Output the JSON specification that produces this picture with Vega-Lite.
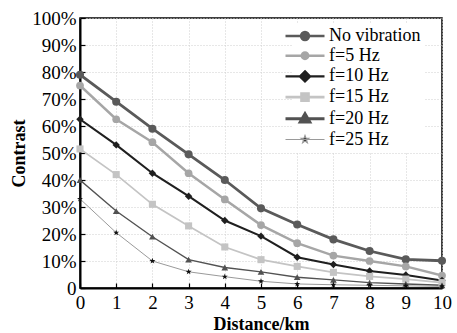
{
  "$schema": "https://vega.github.io/schema/vega-lite/v6.json",
  "width": 362,
  "height": 270,
  "autosize": {"type": "none"},
  "padding": {"left": 80, "top": 18, "right": 15, "bottom": 45},
  "background": "white",
  "config": {
    "view": {"stroke": "black", "strokeWidth": 1.5},
    "font": "Liberation Serif",
    "axis": {
      "labelFont": "Liberation Serif",
      "labelFontSize": 19,
      "labelColor": "black",
      "titleFont": "Liberation Serif",
      "titleFontSize": 18,
      "titleFontWeight": "bold",
      "titleColor": "black",
      "domainColor": "black",
      "domainWidth": 2,
      "tickColor": "black",
      "tickWidth": 1.2,
      "gridColor": "#cfcfcf",
      "gridDash": [1, 2],
      "gridWidth": 1
    }
  },
  "data": {
    "values": [
      {"d": 0, "v": 0.79, "s": "No vibration"},
      {"d": 1, "v": 0.69, "s": "No vibration"},
      {"d": 2, "v": 0.59, "s": "No vibration"},
      {"d": 3, "v": 0.495, "s": "No vibration"},
      {"d": 4, "v": 0.40, "s": "No vibration"},
      {"d": 5, "v": 0.295, "s": "No vibration"},
      {"d": 6, "v": 0.235, "s": "No vibration"},
      {"d": 7, "v": 0.18, "s": "No vibration"},
      {"d": 8, "v": 0.137, "s": "No vibration"},
      {"d": 9, "v": 0.106, "s": "No vibration"},
      {"d": 10, "v": 0.101, "s": "No vibration"},
      {"d": 0, "v": 0.75, "s": "f=5 Hz"},
      {"d": 1, "v": 0.625, "s": "f=5 Hz"},
      {"d": 2, "v": 0.54, "s": "f=5 Hz"},
      {"d": 3, "v": 0.425, "s": "f=5 Hz"},
      {"d": 4, "v": 0.328, "s": "f=5 Hz"},
      {"d": 5, "v": 0.233, "s": "f=5 Hz"},
      {"d": 6, "v": 0.166, "s": "f=5 Hz"},
      {"d": 7, "v": 0.12, "s": "f=5 Hz"},
      {"d": 8, "v": 0.10, "s": "f=5 Hz"},
      {"d": 9, "v": 0.08, "s": "f=5 Hz"},
      {"d": 10, "v": 0.046, "s": "f=5 Hz"},
      {"d": 0, "v": 0.625, "s": "f=10 Hz"},
      {"d": 1, "v": 0.53, "s": "f=10 Hz"},
      {"d": 2, "v": 0.425, "s": "f=10 Hz"},
      {"d": 3, "v": 0.34, "s": "f=10 Hz"},
      {"d": 4, "v": 0.25, "s": "f=10 Hz"},
      {"d": 5, "v": 0.192, "s": "f=10 Hz"},
      {"d": 6, "v": 0.114, "s": "f=10 Hz"},
      {"d": 7, "v": 0.087, "s": "f=10 Hz"},
      {"d": 8, "v": 0.063, "s": "f=10 Hz"},
      {"d": 9, "v": 0.048, "s": "f=10 Hz"},
      {"d": 10, "v": 0.028, "s": "f=10 Hz"},
      {"d": 0, "v": 0.515, "s": "f=15 Hz"},
      {"d": 1, "v": 0.42, "s": "f=15 Hz"},
      {"d": 2, "v": 0.31, "s": "f=15 Hz"},
      {"d": 3, "v": 0.23, "s": "f=15 Hz"},
      {"d": 4, "v": 0.152, "s": "f=15 Hz"},
      {"d": 5, "v": 0.105, "s": "f=15 Hz"},
      {"d": 6, "v": 0.08, "s": "f=15 Hz"},
      {"d": 7, "v": 0.058, "s": "f=15 Hz"},
      {"d": 8, "v": 0.043, "s": "f=15 Hz"},
      {"d": 9, "v": 0.033, "s": "f=15 Hz"},
      {"d": 10, "v": 0.02, "s": "f=15 Hz"},
      {"d": 0, "v": 0.40, "s": "f=20 Hz"},
      {"d": 1, "v": 0.285, "s": "f=20 Hz"},
      {"d": 2, "v": 0.19, "s": "f=20 Hz"},
      {"d": 3, "v": 0.105, "s": "f=20 Hz"},
      {"d": 4, "v": 0.076, "s": "f=20 Hz"},
      {"d": 5, "v": 0.06, "s": "f=20 Hz"},
      {"d": 6, "v": 0.04, "s": "f=20 Hz"},
      {"d": 7, "v": 0.03, "s": "f=20 Hz"},
      {"d": 8, "v": 0.02, "s": "f=20 Hz"},
      {"d": 9, "v": 0.015, "s": "f=20 Hz"},
      {"d": 10, "v": 0.01, "s": "f=20 Hz"},
      {"d": 0, "v": 0.33, "s": "f=25 Hz"},
      {"d": 1, "v": 0.205, "s": "f=25 Hz"},
      {"d": 2, "v": 0.10, "s": "f=25 Hz"},
      {"d": 3, "v": 0.06, "s": "f=25 Hz"},
      {"d": 4, "v": 0.042, "s": "f=25 Hz"},
      {"d": 5, "v": 0.025, "s": "f=25 Hz"},
      {"d": 6, "v": 0.015, "s": "f=25 Hz"},
      {"d": 7, "v": 0.012, "s": "f=25 Hz"},
      {"d": 8, "v": 0.01, "s": "f=25 Hz"},
      {"d": 9, "v": 0.008, "s": "f=25 Hz"},
      {"d": 10, "v": 0.006, "s": "f=25 Hz"}
    ]
  },
  "encoding": {
    "x": {
      "field": "d", "type": "quantitative",
      "scale": {"domain": [0, 10], "nice": false},
      "axis": {"values": [0,1,2,3,4,5,6,7,8,9,10], "title": "Distance/km", "tickSize": -5, "labelPadding": 10, "titlePadding": 3, "grid": true, "labelFlush": false}
    },
    "y": {
      "field": "v", "type": "quantitative",
      "scale": {"domain": [0, 1], "nice": false},
      "axis": {"values": [0,0.1,0.2,0.3,0.4,0.5,0.6,0.7,0.8,0.9,1], "title": "Contrast", "tickSize": -5, "labelPadding": 9, "titlePadding": 3, "grid": true, "labelFlush": false,
        "labelExpr": "datum.value === 0 ? '0' : format(datum.value, '.0%')"}
    }
  },
  "layer": [
    {
      "mark": {"type": "line", "clip": true},
      "encoding": {
        "color": {
          "field": "s", "type": "nominal",
          "scale": {"domain": ["No vibration", "f=5 Hz", "f=10 Hz", "f=15 Hz", "f=20 Hz", "f=25 Hz"],
                    "range": ["#5a5a5a", "#a6a6a6", "#1f1f1f", "#c4c4c4", "#525252", "#9a9a9a"]},
          "legend": {
            "title": null,
            "orient": "none",
            "legendX": 212,
            "legendY": 5,
            "padding": 4,
            "fillColor": "white",
            "symbolSize": 100,
            "symbolType": "circle",
            "symbolStrokeWidth": 2.5,
            "labelFont": "Liberation Serif",
            "labelFontSize": 18,
            "labelColor": "black",
            "labelOffset": 15,
            "rowPadding": 1.7,
            "encoding": {
              "symbols": {
                "shape": {"value": {"expr": "datum.value === 'No vibration' ? 'M-3.9,0H3.9M0.8,0A0.8,0.8,0,1,1,-0.8,0A0.8,0.8,0,1,1,0.8,0Z' : datum.value === 'f=5 Hz' ? 'M-3.9,0H3.9M0.65,0A0.65,0.65,0,1,1,-0.65,0A0.65,0.65,0,1,1,0.65,0Z' : datum.value === 'f=10 Hz' ? 'M-3.9,0H3.9M0,-1L1,0L0,1L-1,0Z' : datum.value === 'f=15 Hz' ? 'M-3.9,0H3.9M-0.7,-0.7H0.7V0.7H-0.7Z' : datum.value === 'f=20 Hz' ? 'M-3.9,0H3.9M0,-1L0.95,0.65H-0.95Z' : 'M-3.9,0H3.9M0,-0.8L0.188,-0.259L0.761,-0.247L0.304,0.099L0.47,0.647L0,0.32L-0.47,0.647L-0.304,0.099L-0.761,-0.247L-0.188,-0.259Z'"}},
                "fill": {"value": {"expr": "datum.value === 'f=25 Hz' ? 'black' : scale('color', datum.value)"}},
                "stroke": {"value": {"expr": "scale('color', datum.value)"}},
                "strokeWidth": {"value": {"expr": "datum.value === 'f=25 Hz' ? 1.2 : datum.value === 'f=20 Hz' ? 3 : datum.value === 'f=15 Hz' ? 2.6 : 2.4"}},
                "opacity": {"value": 1}
              }
            }
          }
        },
        "strokeWidth": {
          "field": "s", "type": "nominal",
          "scale": {"domain": ["f=25 Hz", "f=20 Hz", "f=15 Hz", "f=10 Hz", "f=5 Hz", "No vibration"],
                    "range": [1, 2.8, 2.5, 2, 2, 2.2]},
          "legend": null
        }
      }
    },
    {
      "mark": {"type": "point", "filled": true, "opacity": 1, "strokeWidth": 0},
      "encoding": {
        "fill": {
          "field": "s", "type": "nominal",
          "scale": {"domain": ["f=25 Hz", "f=20 Hz", "f=15 Hz", "f=10 Hz", "f=5 Hz", "No vibration"],
                    "range": ["#111111", "#525252", "#c4c4c4", "#1f1f1f", "#a6a6a6", "#5a5a5a"]},
          "legend": null
        },
        "shape": {
          "field": "s", "type": "nominal",
          "scale": {"domain": ["f=25 Hz", "f=20 Hz", "f=15 Hz", "f=10 Hz", "f=5 Hz", "No vibration"],
                    "range": ["M0,-1L0.235,-0.324L0.951,-0.309L0.38,0.124L0.588,0.809L0,0.4L-0.588,0.809L-0.38,0.124L-0.951,-0.309L-0.235,-0.324Z", "triangle-up", "square", "diamond", "circle", "circle"]},
          "legend": null
        },
        "size": {
          "field": "s", "type": "nominal",
          "scale": {"domain": ["f=25 Hz", "f=20 Hz", "f=15 Hz", "f=10 Hz", "f=5 Hz", "No vibration"],
                    "range": [40, 65, 45, 60, 40, 55]},
          "legend": null
        }
      }
    }
  ]
}
